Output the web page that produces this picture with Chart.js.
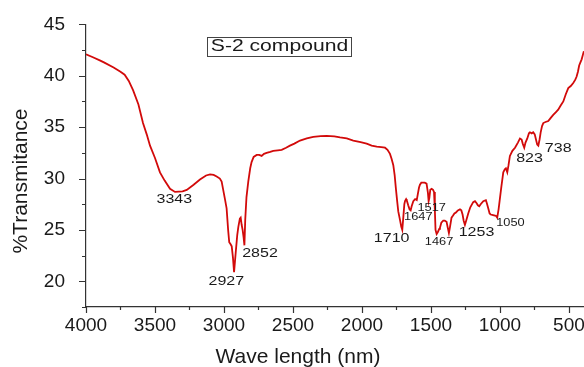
<!DOCTYPE html>
<html>

<head>
    <title>S-2 compound IR spectrum</title>
    <script src="https://cdn.jsdelivr.net/npm/chart.js"></script>
    <style>
        html,
        body {
            margin: 0;
            padding: 0;
            background: #ffffff;
            overflow: hidden;
        }

        #wrap {
            width: 584px;
            height: 367px;
        }
    </style>
</head>

<body>
    <div id="wrap">
        <canvas id="irChart" width="584" height="367"></canvas>
    </div>

    <script>
        // spectrum: wave number and %T
        const waveNumber = [
            4000, 3950, 3900, 3870, 3800, 3750, 3720, 3690, 3659, 3620, 3587, 3560, 3536, 3500, 3464, 3430, 3391, 3355,
            3300, 3270, 3220, 3174, 3130, 3101, 3075, 3053, 3030, 3017, 3007, 2993, 2981, 2970, 2962, 2952, 2944, 2935,
            2927, 2915, 2904, 2896, 2885, 2879, 2872, 2865, 2858, 2852, 2846, 2837, 2824, 2810, 2800, 2785, 2763, 2745,
            2727, 2710, 2691, 2665, 2643, 2610, 2582, 2550, 2522, 2490, 2449, 2400, 2353, 2300, 2256, 2200, 2159, 2110,
            2063, 2010, 1966, 1930, 1893, 1860, 1833, 1815, 1797, 1785, 1773, 1763, 1754, 1745, 1737, 1725, 1715, 1708,
            1700, 1693, 1688, 1680, 1676, 1665, 1655, 1647, 1640, 1628, 1615, 1603, 1595, 1587, 1580, 1570, 1560, 1545,
            1532, 1522, 1517, 1512, 1505, 1495, 1485, 1478, 1472, 1467, 1459, 1450, 1440, 1435, 1425, 1411, 1400, 1387,
            1378, 1370, 1362, 1351, 1340, 1330, 1319, 1305, 1290, 1280, 1271, 1263, 1254, 1245, 1230, 1215, 1194, 1181,
            1169, 1160, 1150, 1140, 1121, 1102, 1095, 1085, 1075, 1067, 1050, 1036, 1028, 1020, 1010, 1000, 990, 976,
            965, 957, 947, 938, 928, 910, 891, 870, 855, 843, 835, 824, 815, 802, 790, 783, 770, 759, 748, 739,
            730, 722, 713, 705, 695, 686, 670, 650, 632, 614, 596, 578, 560, 541, 523, 505, 487, 469, 455, 445,
            435, 426, 417, 408, 400, 392
        ];
        const transmittance = [
            42.1, 41.8, 41.5, 41.3, 40.8, 40.4, 40.1, 39.5, 38.6, 37.2, 35.4, 34.3, 33.2, 32.0, 30.6, 29.8, 29.0, 28.7,
            28.75, 28.9, 29.4, 29.9, 30.3, 30.4, 30.35, 30.2, 30.0, 29.7, 29.0, 28.0, 27.1, 25.0, 23.8, 23.6, 23.4, 22.3,
            20.9, 22.8, 24.5, 25.3, 26.1, 26.2, 25.5, 25.0, 24.3, 23.5, 26.0, 28.2, 29.7, 31.0, 31.6, 32.1, 32.3, 32.3,
            32.2, 32.4, 32.5, 32.6, 32.7, 32.75, 32.8, 33.0, 33.2, 33.4, 33.7, 33.9, 34.05, 34.12, 34.15, 34.1, 34.0, 33.9,
            33.7, 33.55, 33.4, 33.2, 33.1, 33.05, 33.0, 32.8, 32.4, 31.9, 31.3, 30.3, 29.0, 27.8, 26.8, 26.0, 25.3, 25.0,
            26.3, 27.5, 27.8, 28.0, 27.9, 27.4, 27.0, 26.9, 27.3, 27.8, 28.0, 27.9, 28.5, 29.1, 29.4, 29.6, 29.6, 29.6,
            29.5, 28.6, 27.8, 28.1, 28.9, 29.0, 28.9, 28.7, 27.0, 25.0, 24.6, 24.8, 25.1, 25.2, 25.7, 25.9, 25.9, 25.8,
            25.2, 24.7, 25.3, 26.2, 26.4, 26.6, 26.7, 26.9, 27.0, 26.9, 26.5, 25.9, 25.5, 25.9, 26.6, 27.2, 27.7, 27.8,
            27.6, 27.4, 27.3, 27.5, 27.8, 27.9, 27.6, 27.1, 26.6, 26.5, 26.45, 26.4, 26.35, 26.2, 27.0, 28.1, 29.2, 30.6,
            30.9, 31.0, 30.6, 31.3, 32.2, 32.7, 33.0, 33.5, 33.9, 33.8, 33.4, 33.0, 33.5, 33.9, 34.4, 34.5, 34.4, 34.5, 34.3, 33.8,
            33.3, 33.2, 33.8, 34.5, 35.1, 35.4, 35.5, 35.6, 35.9, 36.2, 36.45, 36.7, 37.1, 37.5, 38.2, 38.8, 39.0, 39.3, 39.6, 39.9,
            40.4, 41.0, 41.3, 41.6, 42.0, 42.4
        ];

        // peak annotations (text, and where the label sits in data units)
        const peakText = ['3343', '2927', '2852', '1710', '1647', '1517', '1467', '1253', '1050', '823', '738'];
        const peakLabelX = [3360, 2983, 2739, 1785, 1592, 1495, 1441, 1170, 924, 786, 578];
        const peakLabelY = [27.95, 20.02, 22.73, 24.13, 26.2, 27.15, 23.8, 24.72, 25.63, 31.95, 32.95];
        const peakSmall = [false, false, false, false, true, true, true, false, true, false, false];

        const xTicks = [4000, 3500, 3000, 2500, 2000, 1500, 1000, 500];
        const yTicks = [20, 25, 30, 35, 40, 45];
        const seriesName = 'S-2 compound';

        const FONT = '"Liberation Sans", Arial, sans-serif';
        const INK = '#1a1a1a';

        // text in the original is a bit wider than plain Arial
        function wideText(ctx, text, x, y, size, sx, align, baseline) {
            ctx.save();
            ctx.font = size + 'px ' + FONT;
            ctx.fillStyle = INK;
            ctx.textAlign = align || 'center';
            ctx.textBaseline = baseline || 'middle';
            ctx.translate(x, y);
            ctx.scale(sx, 1);
            ctx.fillText(text, 0, 0);
            ctx.restore();
        }

        const extras = {
            id: 'extras',
            afterDraw(chart) {
                const ctx = chart.ctx;
                const xs = chart.scales.x;
                const ys = chart.scales.y;
                const area = chart.chartArea;

                // ticks, major and minor, outside the axes
                ctx.save();
                ctx.strokeStyle = '#333';
                ctx.lineWidth = 1.2;
                ctx.beginPath();
                for (let v = 17.5; v <= 45.01; v += 2.5) {
                    const py = Math.round(ys.getPixelForValue(v)) + 0.5;
                    const len = (v % 5 === 0) ? 7 : 4;
                    ctx.moveTo(area.left, py);
                    ctx.lineTo(area.left - len, py);
                }
                for (let v = 4000; v >= 500; v -= 250) {
                    const px = Math.round(xs.getPixelForValue(v)) + 0.5;
                    const len = (v % 500 === 0) ? 6 : 3;
                    ctx.moveTo(px, area.bottom);
                    ctx.lineTo(px, area.bottom + len);
                }
                ctx.stroke();
                ctx.restore();

                // peak labels
                peakText.forEach((t, i) => {
                    const px = xs.getPixelForValue(peakLabelX[i]);
                    const py = ys.getPixelForValue(peakLabelY[i]);
                    if (peakSmall[i]) wideText(ctx, t, px, py, 10.5, 1.22);
                    else wideText(ctx, t, px, py, 12.5, 1.28);
                });

                // legend box
                ctx.save();
                ctx.strokeStyle = '#444';
                ctx.lineWidth = 1;
                ctx.strokeRect(207.5, 37.5, 144, 19);
                ctx.restore();
                wideText(ctx, seriesName, 279.5, 46.5, 16.5, 1.28);

                // axis titles
                ctx.save();
                ctx.font = '21px ' + FONT;
                ctx.fillStyle = INK;
                ctx.textAlign = 'center';
                ctx.textBaseline = 'alphabetic';
                ctx.fillText('Wave length (nm)', 298, 363);
                ctx.translate(27, 181);
                ctx.rotate(-Math.PI / 2);
                ctx.fillText('%Transmitance', 0, 0);
                ctx.restore();
            }
        };

        const points = waveNumber.map((w, i) => ({ x: w, y: transmittance[i] }));

        new Chart(document.getElementById('irChart'), {
            type: 'line',
            data: {
                datasets: [{
                    label: seriesName,
                    data: points,
                    borderColor: '#d20a0a',
                    borderWidth: 1.8,
                    pointRadius: 0,
                    tension: 0,
                    fill: false
                }]
            },
            options: {
                responsive: false,
                animation: false,
                devicePixelRatio: 1,
                layout: { padding: { top: 10, right: 0, left: 0, bottom: 0 } },
                plugins: {
                    legend: { display: false },
                    tooltip: { enabled: false }
                },
                scales: {
                    x: {
                        type: 'linear',
                        reverse: true,
                        min: 391,
                        max: 4000,
                        // the end tick at 391 carries no label, so no room is kept for one on the right
                        afterBuildTicks: s => { s.ticks = xTicks.concat([391]).map(v => ({ value: v })); },
                        afterFit: s => { s.height = 60; },
                        grid: { display: false },
                        border: { display: true, color: '#333', width: 1.2 },
                        ticks: {
                            autoSkip: false,
                            maxRotation: 0,
                            padding: -1,
                            color: INK,
                            font: { family: FONT, size: 19 },
                            callback: v => (v % 500 === 0 ? String(v) : '')
                        }
                    },
                    y: {
                        min: 17.5,
                        max: 45,
                        afterBuildTicks: s => { s.ticks = yTicks.map(v => ({ value: v })); },
                        afterFit: s => { s.width = 86; },
                        grid: { display: false },
                        border: { display: true, color: '#333', width: 1.2 },
                        ticks: {
                            padding: 13,
                            color: INK,
                            font: { family: FONT, size: 19 },
                            callback: v => String(v)
                        }
                    }
                }
            },
            plugins: [extras]
        });
    </script>

</body>

</html>
